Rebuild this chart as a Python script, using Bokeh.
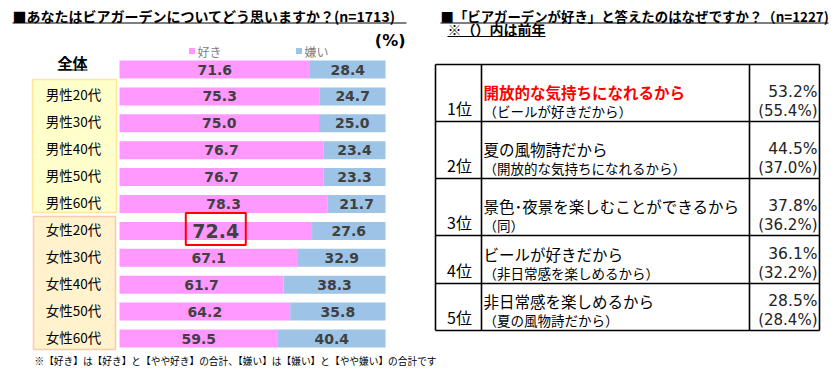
from bokeh.plotting import figure
from bokeh.models import Range1d, ColumnDataSource
from bokeh.core.properties import value
from bokeh.embed import file_html
from bokeh.resources import INLINE

# ---------------- data ----------------
groups = ["全体", "男性20代", "男性30代", "男性40代", "男性50代", "男性60代",
          "女性20代", "女性30代", "女性40代", "女性50代", "女性60代"]
like = [71.6, 75.3, 75.0, 76.7, 76.7, 78.3, 72.4, 67.1, 61.7, 64.2, 59.5]
dislike = [28.4, 24.7, 25.0, 23.4, 23.3, 21.7, 27.6, 32.9, 38.3, 35.8, 40.4]
series_names = ["好き", "嫌い"]
highlight_group = "女性20代"

title_left = "■あなたはビアガーデンについてどう思いますか？(n=1713)"
unit_label = "(%)"
footnote = "※【好き】は【好き】と【やや好き】の合計、【嫌い】は【嫌い】と【やや嫌い】の合計です"

title_right = "■「ビアガーデンが好き」と答えたのはなぜですか？（n=1227)"
subtitle_right = "※（）内は前年"
ranks = ["1位", "2位", "3位", "4位", "5位"]
reasons = ["開放的な気持ちになれるから", "夏の風物詩だから", "景色･夜景を楽しむことができるから",
           "ビールが好きだから", "非日常感を楽しめるから"]
prev_reasons = ["（ビールが好きだから）", "（開放的な気持ちになれるから）", "（同）",
                "（非日常感を楽しめるから）", "（夏の風物詩だから）"]
share = [53.2, 44.5, 37.8, 36.1, 28.5]
prev_share = [55.4, 37.0, 36.2, 32.2, 28.4]

# ---------------- layout constants (picture pixels) ----------------
FIG_W, FIG_H = 829, 368
PAGE_X0, PAGE_Y0 = 0, 0
BAR_L, BAR_R = 119, 385          # x of 0% and 100%
ROW0_Y, ROW_STEP = 69, 26.9      # y of first row centre, row pitch

PINK = "#FF99FF"
BLUE = "#9DC3E6"
LBL = "#404040"
JP = value("Noto Sans CJK JP")
NUM = value("DejaVu Sans")

scale = (BAR_R - BAR_L) / 100.0
x_start = (PAGE_X0 - BAR_L) / scale
x_end = (PAGE_X0 + FIG_W - BAR_L) / scale
y_bottom = (PAGE_Y0 + FIG_H - ROW0_Y) / ROW_STEP
y_top = (PAGE_Y0 - ROW0_Y) / ROW_STEP

p = figure(width=FIG_W, height=FIG_H, output_backend="svg", toolbar_location=None, tools="",
           x_range=Range1d(x_start, x_end), y_range=Range1d(y_bottom, y_top),
           x_axis_type=None, y_axis_type=None, min_border=0,
           outline_line_color=None, background_fill_color="white", border_fill_color="white")
p.extra_x_ranges = {"px": Range1d(PAGE_X0, PAGE_X0 + FIG_W)}
p.extra_y_ranges = {"px": Range1d(PAGE_Y0 + FIG_H, PAGE_Y0)}

PX = dict(x_range_name="px", y_range_name="px")

# ---------------- left: group label boxes ----------------
p.quad(left=[32], right=[116], top=[79], bottom=[212], fill_color="#FFFFCC",
       line_color="#FFE699", line_width=1.5, **PX)
p.quad(left=[33], right=[115], top=[216], bottom=[349], fill_color="#FFF2CC",
       line_color="#F8CBAD", line_width=1.5, **PX)

# ---------------- left: stacked bars ----------------
rows = list(range(len(groups)))
totals = [a + b for a, b in zip(like, dislike)]
like_end = [a / t * 100 for a, t in zip(like, totals)]
dis_w = [b / t * 100 for b, t in zip(dislike, totals)]
src = ColumnDataSource(dict(
    y=rows, group=groups, like_end=like_end,
    dis_end=[a + b for a, b in zip(like_end, dis_w)],
    like_mid=[a / 2 for a in like_end],
    dis_mid=[a + b / 2 for a, b in zip(like_end, dis_w)],
    like_txt=[f"{v:.1f}" for v in like],
    dis_txt=[f"{v:.1f}" for v in dislike],
    like_fs=["19px" if g == highlight_group else "14px" for g in groups],
))
p.hbar(y="y", left=0, right="like_end", height=0.67, fill_color=PINK, line_color=None, source=src)
p.hbar(y="y", left="like_end", right="dis_end", height=0.67, fill_color=BLUE, line_color=None, source=src)
p.text(x="like_mid", y="y", text="like_txt", source=src, text_font=NUM, text_font_style="bold",
       text_font_size="like_fs", text_color=LBL, text_align="center", text_baseline="middle")
p.text(x="dis_mid", y="y", text="dis_txt", source=src, text_font=NUM, text_font_style="bold",
       text_font_size=value("14px"), text_color=LBL, text_align="center", text_baseline="middle")

hi = [i for i, g in enumerate(groups) if g == highlight_group]
p.rect(x=[like_end[i] / 2 for i in hi], y=[rows[i] - 0.07 for i in hi], width=60, height=32,
       width_units="screen", height_units="screen", fill_color=None, line_color="#FF0000", line_width=2)

# row labels
p.text(x=[73] * (len(groups) - 1), y=rows[1:], text=groups[1:], x_range_name="px",
       text_font=JP, text_font_size=value("13.5px"), text_color="#000000",
       text_align="center", text_baseline="middle", y_offset=-2)
p.text(x=[72], y=[62], text=[groups[0]], text_font=JP, text_font_size=value("15px"),
       text_font_style="bold", text_color="#000000", text_align="center", text_baseline="middle", **PX)
p.segment(x0=[57], x1=[87], y0=[69.5], y1=[69.5], line_color="#000000", line_width=1.2, **PX)

# legend
p.scatter(x=[191.5, 298.5], y=[50.5, 50.5], marker="square", size=6,
          fill_color=[PINK, BLUE], line_color=None, **PX)
p.text(x=[197, 304], y=[50.5, 50.5], text=series_names, text_font=JP, text_font_size=value("12px"),
       text_color="#7F7F7F", text_align="left", text_baseline="middle", **PX)

# titles / unit / footnote
p.text(x=[12], y=[15], text=[title_left], text_font=JP, text_font_size=value("14px"),
       text_font_style="bold", text_color="#000000", text_baseline="middle", **PX)
p.segment(x0=[12], x1=[406], y0=[22.5], y1=[22.5], line_color="#000000", line_width=1.2, **PX)
p.text(x=[405], y=[40], text=[unit_label], text_font=NUM, text_font_size=value("16px"),
       text_font_style="bold", text_color="#000000", text_align="right", text_baseline="middle", **PX)
p.text(x=[34], y=[360.5], text=[footnote], text_font=JP, text_font_size=value("9.7px"),
       text_color="#000000", text_baseline="middle", **PX)

# ---------------- right: titles ----------------
p.text(x=[440], y=[15], text=[title_right], text_font=JP, text_font_size=value("13.4px"),
       text_font_style="bold", text_color="#000000", text_baseline="middle", **PX)
p.segment(x0=[440], x1=[828], y0=[22.5], y1=[22.5], line_color="#000000", line_width=1.2, **PX)
p.text(x=[447], y=[28.5], text=[subtitle_right], text_font=JP, text_font_size=value("14px"),
       text_font_style="bold", text_color="#000000", text_baseline="middle", **PX)
p.segment(x0=[447], x1=[545], y0=[36], y1=[36], line_color="#000000", line_width=1.2, **PX)

# ---------------- right: table ----------------
TX = [435, 481, 749, 819]
TY = [64, 121, 178, 235, 283, 330]
p.segment(x0=[TX[0]] * len(TY), x1=[TX[-1]] * len(TY), y0=TY, y1=TY,
          line_color="#000000", line_width=1.6, **PX)
p.segment(x0=TX, x1=TX, y0=[TY[0]] * len(TX), y1=[TY[-1]] * len(TX),
          line_color="#000000", line_width=1.6, **PX)

bottoms = TY[1:]
line1_y = [b - 30 for b in bottoms]
line2_y = [b - 11 for b in bottoms]
rank_y = [b - 13.5 for b in bottoms]

p.text(x=[459] * len(ranks), y=rank_y, text=ranks, text_font=JP, text_font_size=value("16px"),
       text_color="#000000", text_align="center", text_baseline="middle", **PX)
p.text(x=[483] * len(reasons), y=line1_y, text=reasons, text_font=JP,
       text_font_size=value("15.5px"),
       text_font_style=["bold"] + ["normal"] * (len(reasons) - 1),
       text_color=["#FF0000"] + ["#000000"] * (len(reasons) - 1),
       text_baseline="middle", **PX)
p.text(x=[483] * len(prev_reasons), y=line2_y, text=prev_reasons, text_font=JP,
       text_font_size=value("13.5px"), text_color="#000000", text_baseline="middle", **PX)
p.text(x=[817] * len(share), y=line1_y, text=[f"{v:.1f}%" for v in share], text_font=NUM,
       text_font_size=value("15.5px"), text_color="#222222", text_align="right",
       text_baseline="middle", **PX)
p.text(x=[817] * len(prev_share), y=line2_y, text=[f"({v:.1f}%)" for v in prev_share], text_font=NUM,
       text_font_size=value("15px"), text_color="#222222", text_align="right",
       text_baseline="middle", **PX)

open("out.html", "w").write(file_html(p, INLINE))
